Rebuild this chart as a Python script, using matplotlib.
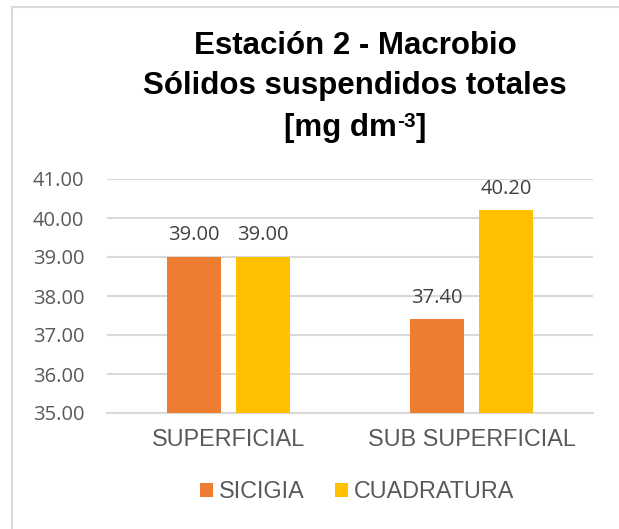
import matplotlib
matplotlib.use("Agg")
import matplotlib.pyplot as plt
from matplotlib.patches import Patch
from matplotlib.lines import Line2D
import numpy as np

categories = ["SUPERFICIAL", "SUB SUPERFICIAL"]
series_names = ["SICIGIA", "CUADRATURA"]
sicigia = [39.00, 37.40]
cuadratura = [39.00, 40.20]
colors = ["#ED7D31", "#FFC000"]
yticks = [35, 36, 37, 38, 39, 40, 41]

W, H = 619, 529
fig = plt.figure(figsize=(W / 100, H / 100), dpi=100)

# plot area in pixel coords of the reference
left, right, top, bottom = 107, 593, 179, 413
ax = fig.add_axes([left / W, (H - bottom) / H, (right - left) / W, (bottom - top) / H])

x = np.arange(len(categories))
width = 0.222
off = 0.142
grey = "#595959"
grid_c = "#D9D9D9"

for vals, dx, c in [(sicigia, -off, colors[0]), (cuadratura, off, colors[1])]:
    bars = ax.bar(x + dx, vals, width, color=c, zorder=3, bottom=0)
    for b, v in zip(bars, vals):
        ax.annotate(f"{v:.2f}", (b.get_x() + b.get_width() / 2, v),
                    xytext=(0, 12), textcoords="offset points",
                    ha="center", va="baseline", fontsize=14.5,
                    color="#404040", family="Open Sans")

ax.set_ylim(35, 41)
ax.set_xlim(-0.5, 1.5)
ax.set_yticks(yticks)
ax.set_yticklabels([f"{t:.2f}" for t in yticks], family="Open Sans",
                   fontsize=14.5, color=grey)
ax.set_xticks(x)
ax.set_xticklabels(categories, family="Liberation Sans", fontsize=16.8, color=grey)
ax.tick_params(axis="y", length=0, pad=16.5)
ax.tick_params(axis="x", length=0, pad=11)
ax.yaxis.grid(True, color=grid_c, linewidth=1.5, zorder=0)
for s in ["top", "right", "left"]:
    ax.spines[s].set_visible(False)
ax.spines["bottom"].set_color(grid_c)
ax.spines["bottom"].set_linewidth(1.5)

# title, three lines
tx = 355 / W
tkw = dict(fontsize=22.5, fontweight="bold", family="Liberation Sans", va="baseline")
fig.text(tx, 1 - 54 / H, "Estación 2 - Macrobio", ha="center", **tkw)
fig.text(tx, 1 - 94 / H, "Sólidos suspendidos totales", ha="center", **tkw)

# third line with a hand-made superscript
r = fig.canvas.get_renderer()
base = 1 - 136 / H
t1 = fig.text(0, base, "[mg dm", ha="left", **tkw)
t2 = fig.text(0, base + 9 / H, "-3", ha="left", fontsize=15, fontweight="bold",
              family="Liberation Sans", va="baseline")
t3 = fig.text(0, base, "]", ha="left", **tkw)
w1 = t1.get_window_extent(r).width
w2 = t2.get_window_extent(r).width
w3 = t3.get_window_extent(r).width
x0 = 355 - (w1 + w2 + w3) / 2
t1.set_x(x0 / W)
t2.set_x((x0 + w1) / W)
t3.set_x((x0 + w1 + w2) / W)

# legend
handles = [Patch(facecolor=c, edgecolor="none") for c in colors]
leg = fig.legend(handles, series_names, loc="center", bbox_to_anchor=(357 / W, 1 - 492 / H),
                 ncol=2, frameon=False, handlelength=0.55, handleheight=0.55,
                 handletextpad=0.25, columnspacing=1.3,
                 prop={"family": "Liberation Sans", "size": 16.8})
for t in leg.get_texts():
    t.set_color(grey)

# light border on top and left, like the source chart frame
fig.add_artist(Line2D([12 / W, 12 / W], [0, 1 - 7 / H], color=grid_c, linewidth=1.5,
                      transform=fig.transFigure))
fig.add_artist(Line2D([12 / W, 1], [1 - 7 / H, 1 - 7 / H], color=grid_c, linewidth=1.5,
                      transform=fig.transFigure))

fig.savefig("out.png", dpi=100)
